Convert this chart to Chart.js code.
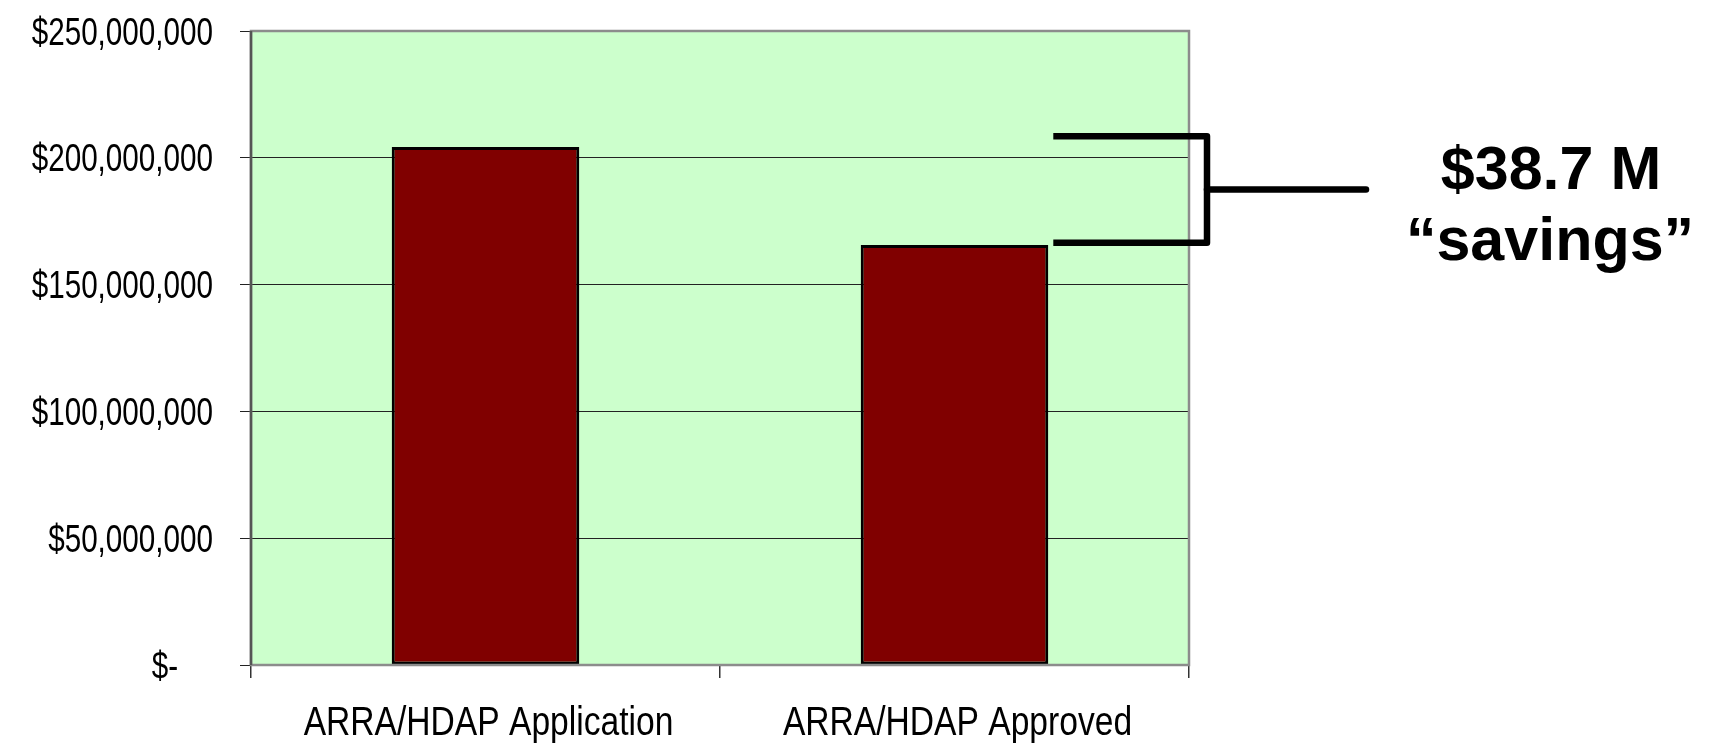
<!DOCTYPE html>
<html>
<head>
<meta charset="utf-8">
<script src="https://cdn.jsdelivr.net/npm/chart.js@4/dist/chart.umd.min.js"></script>
<style>
  html, body { margin: 0; padding: 0; background: #fff; }
  #wrap { width: 1714px; height: 747px; }
</style>
</head>
<body>
<div id="wrap"><canvas id="c" width="1714" height="747"></canvas></div>
<script>
// ── Data ───────────────────────────────────────
const categories   = ['ARRA/HDAP Application', 'ARRA/HDAP Approved'];
const amounts      = [204300000, 165600000];
const yTicks       = [0, 50000000, 100000000, 150000000, 200000000, 250000000];
const bracketSpan  = [208500000, 166500000];   // top / bottom of the savings bracket
const savingsLines = ['$38.7 M', '\u201Csavings\u201D'];

const SANS = "'Liberation Sans', Arial, sans-serif";

const fmtMoney = v => v === 0 ? '$-' : '$' + v.toLocaleString('en-US');

// narrow text: Arial squeezed sideways, like Arial Narrow
function narrowText(ctx, text, x, y, size, squeeze, align) {
  ctx.save();
  ctx.font = size + 'px ' + SANS;
  ctx.fillStyle = '#000';
  ctx.textAlign = align;
  ctx.textBaseline = 'alphabetic';
  ctx.translate(x, y);
  ctx.scale(squeeze, 1);
  ctx.fillText(text, 0, 0);
  ctx.restore();
}

// ── Plot area background / border ──────────────
const plotArea = {
  id: 'plotArea',
  beforeDraw(chart) {
    const { ctx, chartArea: a } = chart;
    ctx.save();
    ctx.fillStyle = '#CCFFCC';
    ctx.fillRect(a.left, a.top, a.right - a.left, a.bottom - a.top);
    ctx.restore();
  },
  afterDraw(chart) {
    const { ctx, chartArea: a } = chart;
    ctx.save();
    ctx.strokeStyle = '#8c8c8c';
    ctx.lineWidth = 2.5;
    ctx.strokeRect(a.left, a.top, a.right - a.left, a.bottom - a.top);
    ctx.strokeStyle = '#555';
    ctx.beginPath();
    ctx.moveTo(a.left, a.top);
    ctx.lineTo(a.left, a.bottom);
    ctx.stroke();
    ctx.restore();
  }
};

// ── Axis labels (drawn at the scales' tick positions) ──
const axisLabels = {
  id: 'axisLabels',
  afterDraw(chart) {
    const { ctx, scales: { x, y } } = chart;
    y.ticks.forEach((t, i) => {
      const py = y.getPixelForTick(i);
      const pad = t.value === 0 ? 35 : 0;   // accounting format leaves "$-" short of the edge
      narrowText(ctx, fmtMoney(t.value), y.right - 38 - pad, py + 13.5, 38, 0.78, 'right');
    });
    x.ticks.forEach((t, i) => {
      narrowText(ctx, x.getLabelForValue(t.value), x.getPixelForTick(i) + 3, x.top + 70, 40, 0.84, 'center');
    });
  }
};

// ── Savings bracket + label ────────────────────
const savings = {
  id: 'savings',
  afterDraw(chart) {
    const { ctx, chartArea: a } = chart;
    const y    = chart.scales.y;
    const bar  = chart.getDatasetMeta(0).data[1];
    const yTop = y.getPixelForValue(bracketSpan[0]);
    const yBot = y.getPixelForValue(bracketSpan[1]);
    const yMid = (yTop + yBot) / 2;
    const x0   = bar.x + bar.width / 2 + 5;
    const xV   = a.right + 18;
    const xEnd = a.right + 177;

    ctx.save();
    ctx.strokeStyle = '#000';
    ctx.lineWidth = 6.5;
    ctx.lineJoin = 'round';
    ctx.beginPath();
    ctx.moveTo(x0, yTop);
    ctx.lineTo(xV, yTop);
    ctx.lineTo(xV, yBot);
    ctx.lineTo(x0, yBot);
    ctx.stroke();
    ctx.lineCap = 'round';
    ctx.beginPath();
    ctx.moveTo(xV, yMid);
    ctx.lineTo(xEnd, yMid);
    ctx.stroke();

    ctx.fillStyle = '#000';
    ctx.font = 'bold 61px ' + SANS;
    ctx.textAlign = 'center';
    ctx.textBaseline = 'alphabetic';
    ctx.fillText(savingsLines[0], 1551, yMid - 1);
    ctx.fillText(savingsLines[1], 1550, yMid + 70);
    ctx.restore();
  }
};

// ── Chart ──────────────────────────────────────
new Chart(document.getElementById('c'), {
  type: 'bar',
  data: {
    labels: categories,
    datasets: [{
      data:               amounts,
      backgroundColor:    '#800000',
      borderColor:        '#000',
      borderWidth:        3,
      borderSkipped:      false,
      categoryPercentage: 1,
      barPercentage:      0.4,
    }],
  },
  options: {
    responsive:       false,
    animation:        false,
    devicePixelRatio: 1,
    layout: { padding: { top: 31, right: 525, left: 0, bottom: 0 } },
    plugins: { legend: { display: false }, tooltip: { enabled: false } },
    scales: {
      x: {
        offset: true,
        grid:   { drawOnChartArea: false, offset: true, tickLength: 13, color: '#333', lineWidth: 1.5 },
        border: { display: false },
        ticks:  { display: false },
        afterFit(s) { s.height = 82; },
      },
      y: {
        min: 0,
        max: yTicks[yTicks.length - 1],
        afterBuildTicks(s) { s.ticks = yTicks.map(v => ({ value: v })); },
        grid:   { color: '#222', lineWidth: 1, tickLength: 11 },
        border: { display: false },
        ticks:  { display: false },
        afterFit(s) { s.width = 251; },
      },
    },
  },
  plugins: [plotArea, axisLabels, savings],
});
</script>
</body>
</html>
